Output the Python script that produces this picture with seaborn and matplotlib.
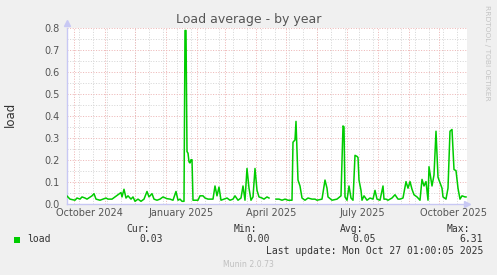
import matplotlib
matplotlib.use('Agg')
import matplotlib.pyplot as plt
import seaborn as sns
import numpy as np
import pandas as pd
from matplotlib.patches import Rectangle

# ---------------- data ----------------
START = '2024-09-24'
SPAN_DAYS = 400

day = [0, 3, 8, 10, 13, 15, 18, 20, 25, 27, 29, 33, 36, 39, 41, 45, 48, 51, 54, 55,
       57, 59, 61, 64, 66, 68, 71, 74, 77, 80, 82, 85, 87, 90, 93, 96, 100, 103, 106, 109,
       111, 113, 115, 117, 118, 119, 120, 121, 122, 123, 124, 125, 126, 129, 131, 133, 136, 138, 141, 146,
       148, 150, 152, 154, 157, 160, 163, 166, 168, 171, 174, 176, 178, 180, 182, 184, 186, 188, 190, 192,
       195, 197, 200, 202, 203, 209, 212, 215, 218, 221, 225, 226, 228, 229, 231, 233, 235, 238, 241, 245,
       248, 250, 255, 258, 260, 261, 265, 270, 274, 276, 277, 278, 280, 282, 284, 286, 288, 290, 291, 292,
       294, 295, 297, 300, 303, 306, 308, 310, 313, 316, 317, 319, 321, 325, 328, 331, 333, 336, 339, 341,
       343, 345, 347, 350, 353, 355, 357, 359, 361, 362, 365, 367, 369, 371, 372, 375, 376, 379, 381, 383,
       385, 387, 389, 391, 393, 395, 398, 399]
load = [0.034, 0.02, 0.015, 0.025, 0.02, 0.03, 0.025, 0.02, 0.035, 0.045, 0.02, 0.015, 0.02, 0.025, 0.02, 0.02, 0.03, 0.04, 0.05, 0.03,
        0.065, 0.025, 0.035, 0.02, 0.03, 0.01, 0.02, 0.01, 0.02, 0.055, 0.03, 0.045, 0.02, 0.015, 0.02, 0.03, 0.022, 0.02, 0.015, 0.055,
        0.015, 0.02, 0.01, 0.01, 0.79, 0.79, 0.237, 0.23, 0.19, 0.185, 0.2, 0.2, 0.015, 0.015, 0.015, 0.035, 0.035, 0.025, 0.02, 0.02,
        0.08, 0.035, 0.075, 0.015, 0.02, 0.025, 0.015, 0.02, 0.035, 0.015, 0.025, 0.08, 0.015, 0.16, 0.07, 0.015, 0.03, 0.16, 0.06, 0.03,
        0.025, 0.02, 0.03, 0.025, np.nan, 0.02, 0.02, 0.015, 0.02, 0.015, 0.015, 0.28, 0.29, 0.375, 0.107, 0.08, 0.025, 0.015, 0.025, 0.02,
        0.02, 0.015, 0.02, 0.107, 0.07, 0.03, 0.015, 0.02, 0.035, 0.354, 0.35, 0.03, 0.015, 0.08, 0.025, 0.015, 0.22, 0.215, 0.21, 0.107,
        0.06, 0.015, 0.035, 0.015, 0.025, 0.02, 0.06, 0.02, 0.015, 0.08, 0.02, 0.02, 0.015, 0.025, 0.04, 0.02, 0.02, 0.025, 0.1, 0.07,
        0.1, 0.065, 0.04, 0.03, 0.015, 0.11, 0.08, 0.1, 0.015, 0.168, 0.08, 0.13, 0.33, 0.12, 0.107, 0.07, 0.03, 0.02, 0.07, 0.33,
        0.338, 0.155, 0.15, 0.07, 0.02, 0.035, 0.03, 0.03]

x_label_text = ['October 2024', 'January 2025', 'April 2025', 'July 2025', 'October 2025']
x_label_dates = ['2024-10-16', '2025-01-16', '2025-04-16', '2025-07-16', '2025-10-16']
y_major = [0.0, 0.1, 0.2, 0.3, 0.4, 0.5, 0.6, 0.7, 0.8]
y_minor = [0.05, 0.15, 0.25, 0.35, 0.45, 0.55, 0.65, 0.75]

title = 'Load average - by year'
y_name = 'load'
series_name = 'load'
stat_names = ['Cur:', 'Min:', 'Avg:', 'Max:']
stat_values = ['0.03', '0.00', '0.05', '6.31']
last_update = 'Last update: Mon Oct 27 01:00:05 2025'
footer = 'Munin 2.0.73'
side_text = 'RRDTOOL / TOBI OETIKER'

# ---------------- figure ----------------
W, H = 497, 275
def fx(px):
    return px / W
def fy(py):
    return 1 - py / H

BG = '#F0F0F0'
GREEN = '#00CC00'
MGRID = '#EDB6B6'
GRID = '#D6D6D6'
AXIS = '#C8C8F4'
TXT = '#555555'
LTXT = '#333333'
DOT = (0, (1, 1.6))

fig = plt.figure(figsize=(W / 100, H / 100), dpi=100, facecolor=BG)
ax = fig.add_axes([fx(67), fy(203.5), fx(467) - fx(67), fy(28.3) - fy(203.5)])
ax.set_facecolor('white')

start = pd.Timestamp(START)
end = start + pd.Timedelta(days=SPAN_DAYS)

df = pd.DataFrame({'date': start + pd.to_timedelta(day, unit='D'), 'load': load})
df['seg'] = df['load'].isna().cumsum()
df = df.dropna()

# grid
for d in pd.date_range('2024-10-06', end, freq='14D'):
    ax.axvline(d, color=GRID, lw=0.72, ls=DOT, zorder=0.5)
for d in pd.date_range('2024-10-01', end, freq='MS'):
    ax.axvline(d, color=MGRID, lw=0.72, ls=DOT, zorder=0.6)
for v in y_minor:
    ax.axhline(v, color=GRID, lw=0.72, ls=DOT, zorder=0.5)
for v in y_major[1:]:
    ax.axhline(v, color=MGRID, lw=0.72, ls=DOT, zorder=0.6)

sns.lineplot(data=df, x='date', y='load', units='seg', estimator=None,
             color=GREEN, linewidth=1.1, ax=ax, legend=False, zorder=3)

ax.set_xlim(start, end)
ax.set_ylim(0, 0.8)
ax.set_xlabel('')
ax.set_ylabel('')

ax.set_yticks(y_major)
ax.set_yticklabels([f'{v:.1f}' for v in y_major])
ax.set_xticks(pd.to_datetime(x_label_dates))
ax.set_xticklabels(x_label_text)
ax.tick_params(axis='both', length=0, labelsize=7, labelcolor=TXT)
ax.tick_params(axis='y', pad=5)
ax.tick_params(axis='x', pad=3.5)

for s in ['top', 'right']:
    ax.spines[s].set_visible(False)
for s in ['left', 'bottom']:
    ax.spines[s].set_color(AXIS)
    ax.spines[s].set_linewidth(1.0)
ax.spines['left'].set_bounds(0, 0.8)

# axis arrows
ax.plot([0], [1.03], marker='^', markersize=5, color=AXIS, transform=ax.transAxes, clip_on=False)
ax.plot([1.0], [0], marker='>', markersize=5, color=AXIS, transform=ax.transAxes, clip_on=False)

# texts
fig.text(fx(248.5), fy(20), title, ha='center', va='center', fontsize=9, color='#555555')
fig.text(fx(10), fy(114), y_name, ha='center', va='center', rotation=90, fontsize=8.5, color=LTXT)
fig.text(fx(487), fy(5), side_text, ha='center', va='top', rotation=270, fontsize=5.4, color='#C4C4C4')

mono = dict(family='DejaVu Sans Mono', fontsize=7, color=LTXT)
name_right = [150, 257, 363, 470]
val_right = [163, 270, 376, 483]
for n, r in zip(stat_names, name_right):
    fig.text(fx(r), fy(228.5), n, ha='right', va='center', **mono)
for v, r in zip(stat_values, val_right):
    fig.text(fx(r), fy(239.5), v, ha='right', va='center', **mono)
fig.patches.append(Rectangle((fx(14), fy(243)), fx(6), 6 / H, transform=fig.transFigure,
                             facecolor=GREEN, edgecolor='none'))
fig.text(fx(27), fy(239.5), series_name, ha='left', va='center', **mono)
fig.text(fx(483), fy(251.5), last_update, ha='right', va='center', **mono)
fig.text(fx(248.5), fy(264.5), footer, ha='center', va='center', fontsize=5.6, color='#C0C0C0')

fig.savefig('out.png', dpi=100, facecolor=BG)
